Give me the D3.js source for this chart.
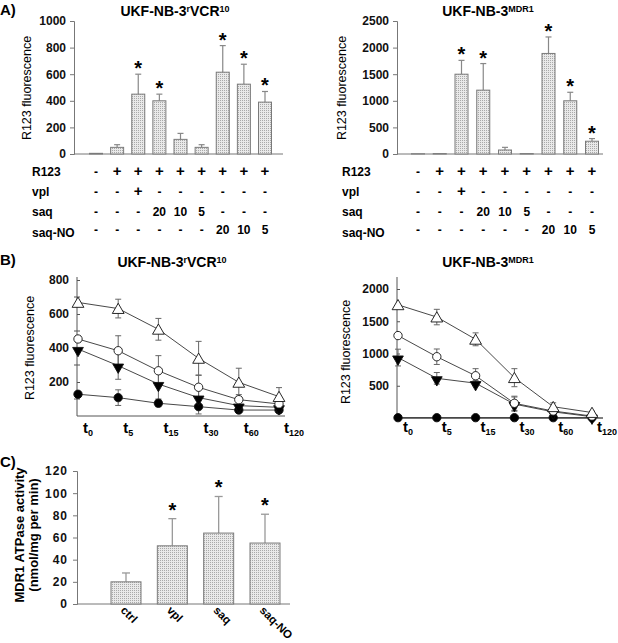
<!DOCTYPE html>
<html><head><meta charset="utf-8">
<script src="https://cdn.jsdelivr.net/npm/d3@7"></script>
<style>
body{margin:0;background:#fff;}
svg{display:block;font-family:"Liberation Sans",Arial,Helvetica,sans-serif;}
</style></head>
<body><svg id="c" width="618" height="643"></svg>
<script>
// ---------- DATA ----------
const conditionIds = [0,1,2,3,4,5,6,7,8];
const rowLabels = ["R123","vpl","saq","saq-NO"];
const r123Row  = ["-","+","+","+","+","+","+","+","+"];
const vplRow   = ["-","-","+","-","-","-","-","-","-"];
const saqRow   = ["-","-","-","20","10","5","-","-","-"];
const saqNoRow = ["-","-","-","-","-","-","20","10","5"];

const vcrMeans = [5,50,450,400,110,50,615,525,390];
const vcrErr   = [0,20,150,50,45,20,200,150,80];
const vcrSig   = [0,0,1,1,0,0,1,1,1];
const vcrTicks = [0,200,400,600,800,1000];

const mdrMeans = [5,8,1500,1200,75,8,1890,1000,240];
const mdrErr   = [0,0,260,500,50,0,310,160,50];
const mdrSig   = [0,0,1,1,0,0,1,1,1];
const mdrTicks = [0,500,1000,1500,2000,2500];

const timeLabels = ["0","5","15","30","60","120"];
const vcrTriUp   = [668,632,510,339,198,114];
const vcrTriUpE  = [0,55,64,100,83,53];
const vcrCirc    = [453,384,266,169,96,71];
const vcrCircE   = [18,88,89,72,30,15];
const vcrTriDn   = [394,296,188,108,61,51];
const vcrTriDnE  = [0,80,88,60,20,10];
const vcrDot     = [128,108,75,55,35,35];
const vcrDotE    = [0,46,20,43,15,10];
const vcrBTicks  = [200,400,600,800];
const vcrBMinor  = [100,300,500,700];

const mdrTriUp   = [1755,1565,1220,625,175,85];
const mdrTriUpE  = [0,120,100,140,60,20];
const mdrCirc    = [1278,950,655,228,108,30];
const mdrCircE   = [0,120,110,110,30,10];
const mdrTriDn   = [937,615,540,215,95,20];
const mdrTriDnE  = [130,90,40,110,20,5];
const mdrDot     = [5,5,5,5,5,5];
const mdrDotE    = [0,0,0,0,0,0];
const mdrBTicks  = [500,1000,1500,2000];

const atpLabels = ["ctrl","vpl","saq","saq-NO"];
const atpMeans  = [20,52.5,64,55];
const atpErr    = [8,24.5,33,26];
const atpSig    = [0,1,1,1];
const atpTicks  = [0,20,40,60,80,100,120];

// ---------- DRAW ----------
const svg = d3.select("#c");
const fmt = d3.format("d");
const defs = svg.append("defs");
const pat = defs.append("pattern").attr("id","dots").attr("width",2).attr("height",2).attr("patternUnits","userSpaceOnUse");
pat.append("rect").attr("width",2).attr("height",2).attr("fill","#e9e9e9");
pat.append("rect").attr("width",1).attr("height",1).attr("fill","#a9a9a9");

function title(x, y, parts){
  const t = svg.append("text").attr("x",x).attr("y",y).attr("text-anchor","middle")
    .attr("font-size",14).attr("font-weight","bold").attr("fill","#000");
  let up=false;
  parts.forEach(p=>{
    const s = t.append("tspan").text(p[0]);
    if(p[1]){ s.attr("font-size",9); if(!up){s.attr("dy",-4); up=true;} }
    else if(up){ s.attr("dy",4); up=false; }
  });
  return t;
}
function panelLetter(x,y,txt){
  svg.append("text").attr("x",x).attr("y",y).attr("font-size",15).attr("font-weight","bold").text(txt);
}
function yLabel(x,y,txt,opts={}){
  svg.append("text").attr("transform",`translate(${x},${y}) rotate(-90)`)
    .attr("text-anchor","middle").attr("font-size",opts.size||12.5)
    .attr("font-weight",opts.bold?"bold":"normal").text(txt);
}

// Panel A bar chart
function barPanel(cfg){
  const y = d3.scaleLinear().domain([0,cfg.max]).range([154,21]);
  const x = d3.scalePoint().domain(conditionIds).range(cfg.xr);
  const ax = svg.append("g").attr("transform",`translate(${cfg.axisX},0)`)
    .call(d3.axisLeft(y).tickValues(cfg.ticks).tickFormat(fmt).tickSize(4).tickPadding(4));
  ax.select(".domain").attr("stroke","#777");
  ax.selectAll(".tick line").attr("stroke","#777");
  ax.selectAll(".tick text").attr("font-size",12).attr("font-weight","bold").attr("fill","#111")
    .attr("font-family","Liberation Sans, Arial, sans-serif");
  svg.append("line").attr("x1",cfg.axisX).attr("x2",cfg.xEnd).attr("y1",y(0)).attr("y2",y(0)).attr("stroke","#777");
  const bw = cfg.bw;
  const g = svg.append("g");
  cfg.means.forEach((m,i)=>{
    if(cfg.err[i]>0){
      g.append("line").attr("x1",x(i)).attr("x2",x(i)).attr("y1",y(m)).attr("y2",y(m+cfg.err[i])).attr("stroke","#888").attr("stroke-width",1.2);
      g.append("line").attr("x1",x(i)-3).attr("x2",x(i)+3).attr("y1",y(m+cfg.err[i])).attr("y2",y(m+cfg.err[i])).attr("stroke","#888").attr("stroke-width",1.2);
    }
  });
  g.selectAll("rect.b").data(cfg.means).join("rect").attr("class","b")
    .attr("x",(d,i)=>x(i)-bw/2).attr("width",bw)
    .attr("y",d=>y(d)).attr("height",d=>y(0)-y(d))
    .attr("fill","url(#dots)").attr("stroke","#7a7a7a").attr("stroke-width",1);
  cfg.sig.forEach((s,i)=>{
    if(s) g.append("text").attr("x",x(i)).attr("y",y(cfg.means[i]+cfg.err[i])+1)
      .attr("text-anchor","middle").attr("font-size",20).attr("font-weight","bold").text("*");
  });
  const rows=[r123Row,vplRow,saqRow,saqNoRow];
  const rowY=[176,196,216,236];
  rows.forEach((r,ri)=>{
    svg.append("text").attr("x",cfg.labelX).attr("y",rowY[ri]+(ri===3?1:0)).attr("font-size",12).attr("font-weight","bold").text(rowLabels[ri]);
    r.forEach((v,ci)=>{
      svg.append("text").attr("x",x(ci)).attr("y",rowY[ri]-(ri===3?2:0)).attr("text-anchor","middle")
        .attr("font-size",v==="+"?15:12).attr("font-weight","bold").text(v);
    });
  });
  return {x,y};
}

panelLetter(0,15,"A)");
title(175,16,[["UKF-NB-3"],["r",1],["VCR"],["10",1]]);
title(488,16,[["UKF-NB-3"],["MDR1",1]]);
barPanel({max:1000,ticks:vcrTicks,xr:[96,265],axisX:74,xEnd:283,bw:13,means:vcrMeans,err:vcrErr,sig:vcrSig,labelX:32});
barPanel({max:2500,ticks:mdrTicks,xr:[418,592],axisX:397,xEnd:603,bw:13,means:mdrMeans,err:mdrErr,sig:mdrSig,labelX:342});
yLabel(31,88,"R123 fluorescence");
yLabel(346,88,"R123 fluorescence");

// Panel B line charts
function linePanel(cfg){
  const y = d3.scaleLinear().domain([0,cfg.max]).range([cfg.y0,cfg.yTop]);
  const x = d3.scalePoint().domain(timeLabels).range(cfg.xr);
  const ax = svg.append("g").attr("transform",`translate(${cfg.axisX},0)`)
    .call(d3.axisLeft(y).tickValues(cfg.ticks).tickFormat(fmt).tickSize(3).tickPadding(5));
  ax.select(".domain").remove();
  ax.selectAll(".tick line").attr("stroke","#555").attr("x2",3);
  ax.selectAll(".tick text").attr("font-size",12).attr("font-weight","bold").attr("fill","#111")
    .attr("font-family","Liberation Sans, Arial, sans-serif");
  if(cfg.minor){
    cfg.minor.forEach(v=>svg.append("line").attr("x1",cfg.axisX-3).attr("x2",cfg.axisX+3).attr("y1",y(v)).attr("y2",y(v)).attr("stroke","#555"));
  }
  svg.append("line").attr("x1",cfg.axisX).attr("x2",cfg.axisX).attr("y1",cfg.axisTop).attr("y2",y(0)).attr("stroke","#555");
  svg.append("line").attr("x1",cfg.axisX).attr("x2",cfg.xEnd).attr("y1",y(0)).attr("y2",y(0)).attr("stroke","#555").attr("stroke-width",cfg.xw||1);
  const line = d3.line().x((d,i)=>x(timeLabels[i])).y(d=>y(d));
  const series = cfg.series;
  series.forEach(s=>{
    svg.append("path").attr("d",line(s.v)).attr("fill","none").attr("stroke","#333").attr("stroke-width",0.9);
  });
  series.forEach(s=>{
    s.v.forEach((v,i)=>{
      const e=s.e[i]; if(!e) return;
      const cx=x(timeLabels[i]);
      const yt=y(v+e), yb=y(Math.max(0,v-e));
      svg.append("line").attr("x1",cx).attr("x2",cx).attr("y1",yt).attr("y2",yb).attr("stroke","#666").attr("stroke-width",1);
      [yt,yb].forEach(yy=>svg.append("line").attr("x1",cx-3).attr("x2",cx+3).attr("y1",yy).attr("y2",yy).attr("stroke","#666").attr("stroke-width",1));
    });
  });
  series.forEach(s=>{
    s.v.forEach((v,i)=>{
      const cx=x(timeLabels[i]), cy=y(v);
      const p = svg.append("path").attr("d",d3.symbol(s.sym, s.size)())
        .attr("fill",s.fill).attr("stroke","#111").attr("stroke-width",0.9);
      if(s.rot) p.attr("transform",`translate(${cx},${cy+1.5}) rotate(180)`);
      else if(s.sym===d3.symbolTriangle) p.attr("transform",`translate(${cx},${cy+1.5})`);
      else p.attr("transform",`translate(${cx},${cy})`);
    });
  });
  timeLabels.forEach(t=>{
    const tx = svg.append("text").attr("x",x(t)+5).attr("y",cfg.labY).attr("font-size",15).attr("font-weight","bold");
    tx.append("tspan").text("t");
    tx.append("tspan").text(t).attr("font-size",9).attr("dy",3);
  });
}
panelLetter(0,265,"B)");
title(172,267,[["UKF-NB-3"],["r",1],["VCR"],["10",1]]);
title(488,267,[["UKF-NB-3"],["MDR1",1]]);
linePanel({max:800,y0:416,yTop:280,axisX:77,axisTop:277,xEnd:285,xr:[78,279],ticks:vcrBTicks,minor:vcrBMinor,labY:433,
  series:[
    {v:vcrDot,e:vcrDotE,sym:d3.symbolCircle,size:55,fill:"#000"},
    {v:vcrTriDn,e:vcrTriDnE,sym:d3.symbolTriangle,size:50,fill:"#000",rot:true},
    {v:vcrCirc,e:vcrCircE,sym:d3.symbolCircle,size:55,fill:"#fff"},
    {v:vcrTriUp,e:vcrTriUpE,sym:d3.symbolTriangle,size:60,fill:"#fff"}
  ]});
linePanel({max:2000,y0:418,yTop:289,axisX:397,axisTop:277,xEnd:603,xr:[398,592],ticks:mdrBTicks,labY:432,xw:1.6,
  series:[
    {v:mdrDot,e:mdrDotE,sym:d3.symbolCircle,size:55,fill:"#000"},
    {v:mdrTriDn,e:mdrTriDnE,sym:d3.symbolTriangle,size:50,fill:"#000",rot:true},
    {v:mdrCirc,e:mdrCircE,sym:d3.symbolCircle,size:55,fill:"#fff"},
    {v:mdrTriUp,e:mdrTriUpE,sym:d3.symbolTriangle,size:60,fill:"#fff"}
  ]});
yLabel(34,348,"R123 fluorescence");
yLabel(350,352,"R123 fluorescence");

// Panel C
panelLetter(0,467,"C)");
(function(){
  const y = d3.scaleLinear().domain([0,120]).range([604,471]);
  const x = d3.scalePoint().domain(atpLabels).range([126,265]);
  const ax = svg.append("g").attr("transform","translate(77,0)")
    .call(d3.axisLeft(y).tickValues(atpTicks).tickFormat(fmt).tickSize(4).tickPadding(5));
  ax.select(".domain").attr("stroke","#777");
  ax.selectAll(".tick line").attr("stroke","#777");
  ax.selectAll(".tick text").attr("font-size",12).attr("font-weight","bold").attr("letter-spacing",1).attr("fill","#111")
    .attr("font-family","Liberation Sans, Arial, sans-serif");
  svg.append("line").attr("x1",77).attr("x2",290).attr("y1",y(0)).attr("y2",y(0)).attr("stroke","#777");
  const bw=30;
  atpMeans.forEach((m,i)=>{
    const cx=x(atpLabels[i]);
    svg.append("line").attr("x1",cx).attr("x2",cx).attr("y1",y(m)).attr("y2",y(m+atpErr[i])).attr("stroke","#999").attr("stroke-width",1.3);
    svg.append("line").attr("x1",cx-4).attr("x2",cx+4).attr("y1",y(m+atpErr[i])).attr("y2",y(m+atpErr[i])).attr("stroke","#999").attr("stroke-width",1.3);
  });
  svg.selectAll("rect.c").data(atpMeans).join("rect").attr("class","c")
    .attr("x",(d,i)=>x(atpLabels[i])-bw/2).attr("width",bw)
    .attr("y",d=>y(d)).attr("height",d=>y(0)-y(d))
    .attr("fill","url(#dots)").attr("stroke","#7a7a7a");
  atpSig.forEach((s,i)=>{
    if(s) svg.append("text").attr("x",x(atpLabels[i])).attr("y",y(atpMeans[i]+atpErr[i])-2)
      .attr("text-anchor","middle").attr("font-size",20).attr("font-weight","bold").text("*");
  });
  atpLabels.forEach(l=>{
    svg.append("text").attr("transform",`translate(${x(l)-6},${611}) rotate(45)`)
      .attr("font-size",11.5).attr("font-weight","bold").text(l);
  });
  svg.append("text").attr("transform","translate(24,535) rotate(-90)").attr("text-anchor","middle")
    .attr("font-size",13).attr("font-weight","bold").text("MDR1 ATPase activity");
  svg.append("text").attr("transform","translate(38,535) rotate(-90)").attr("text-anchor","middle")
    .attr("font-size",13).attr("font-weight","bold").text("(nmol/mg per min)");
})();
</script></body></html>
